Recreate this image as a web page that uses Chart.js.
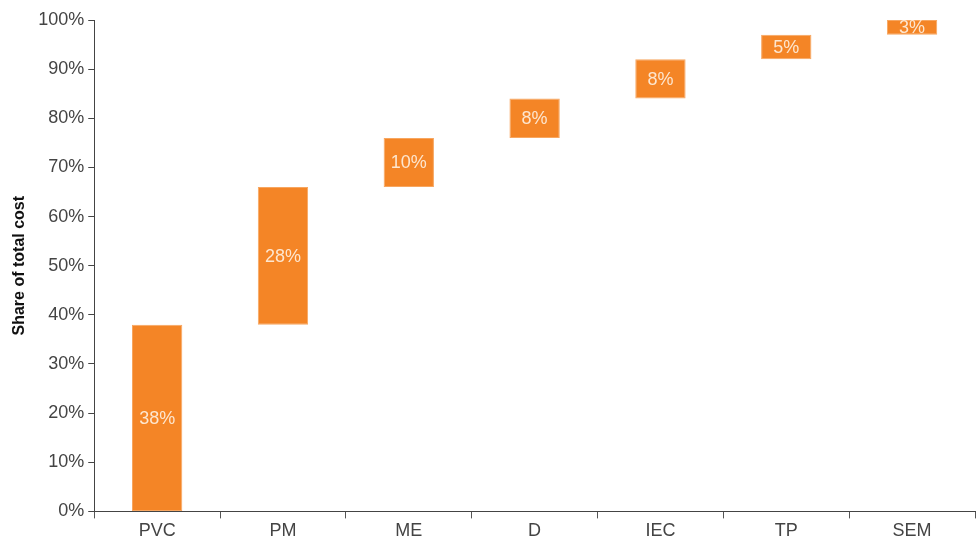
<!DOCTYPE html>
<html>
<head>
<meta charset="utf-8">
<script src="https://cdn.jsdelivr.net/npm/chart.js@4"></script>
<style>
  html, body { margin: 0; padding: 0; background: #fff; }
  #wrap { width: 976px; height: 544px; }
</style>
</head>
<body>
<div id="wrap"><canvas id="chart"></canvas></div>
<script>
const categories = ['PVC', 'PM', 'ME', 'D', 'IEC', 'TP', 'SEM'];
const shares = [38, 28, 10, 8, 8, 5, 3];
const yTicks = [0, 10, 20, 30, 40, 50, 60, 70, 80, 90, 100];

// floating bars: each step starts where the previous ended
let running = 0;
const steps = shares.map(v => {
    const s = [running, running + v];
    running += v;
    return s;
});

const FONT = '"Liberation Sans", Arial, sans-serif';

const barLabels = {
    id: 'barLabels',
    afterDatasetsDraw(chart) {
        const ctx = chart.ctx;
        const meta = chart.getDatasetMeta(0);
        ctx.save();
        ctx.font = '18px ' + FONT;
        ctx.fillStyle = '#fde6cf';
        ctx.textAlign = 'center';
        ctx.textBaseline = 'middle';
        meta.data.forEach((bar, i) => {
            const y = (bar.y + bar.base) / 2;
            ctx.fillText(shares[i] + '%', bar.x, y + 1);
        });
        ctx.restore();
    }
};

new Chart(document.getElementById('chart'), {
    type: 'bar',
    data: {
        labels: categories,
        datasets: [{
            data: steps,
            backgroundColor: '#F48526',
            borderColor: '#F7A660',
            borderWidth: 1,
            borderSkipped: false,
            categoryPercentage: 1,
            barPercentage: 0.4
        }]
    },
    options: {
        responsive: true,
        maintainAspectRatio: false,
        animation: false,
        layout: { padding: { top: 20, right: 1, left: 10, bottom: 0 } },
        plugins: {
            legend: { display: false },
            tooltip: { enabled: false }
        },
        scales: {
            x: {
                grid: {
                    offset: true,
                    drawOnChartArea: false,
                    tickLength: 7,
                    color: '#555'
                },
                border: { color: '#444', width: 1 },
                ticks: {
                    color: '#444',
                    font: { size: 18, family: FONT },
                    padding: 2
                }
            },
            y: {
                min: 0,
                max: 100,
                afterBuildTicks: axis => { axis.ticks = yTicks.map(v => ({ value: v })); },
                grid: {
                    drawOnChartArea: false,
                    tickLength: 6,
                    color: '#444'
                },
                border: { color: '#444', width: 1 },
                ticks: {
                    color: '#444',
                    font: { size: 18, family: FONT },
                    padding: 4,
                    callback: v => v + '%'
                },
                title: {
                    display: true,
                    text: 'Share of total cost',
                    color: '#111',
                    font: { size: 16, weight: 'bold', family: FONT },
                    padding: { top: 0, bottom: 5 }
                }
            }
        }
    },
    plugins: [barLabels]
});
</script>
</body>
</html>
